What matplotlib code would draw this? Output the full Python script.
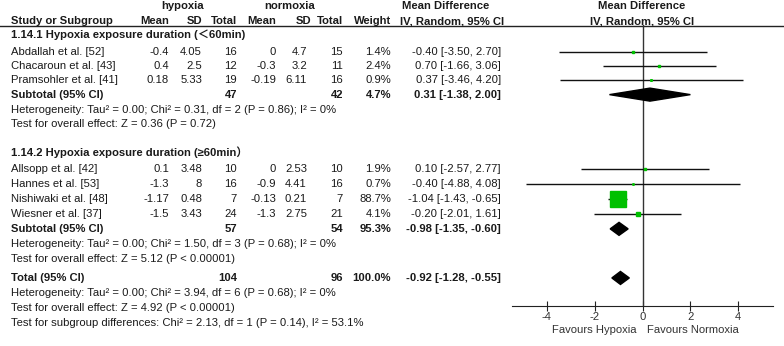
import numpy as np
import matplotlib.pyplot as plt

plt.rcParams['font.family'] = ['Liberation Sans', 'Noto Sans CJK SC', 'DejaVu Sans']
plt.rcParams['font.size'] = 8.1

# 研究数据
studies = ['Abdallah et al. [52]', 'Chacaroun et al. [43]', 'Pramsohler et al. [41]',
           'Allsopp et al. [42]', 'Hannes et al. [53]', 'Nishiwaki et al. [48]', 'Wiesner et al. [37]']
hyp_mean = [-0.4, 0.4, 0.18, 0.1, -1.3, -1.17, -1.5]
hyp_sd = [4.05, 2.5, 5.33, 3.48, 8, 0.48, 3.43]
hyp_n = [16, 12, 19, 10, 16, 7, 24]
nor_mean = [0, -0.3, -0.19, 0, -0.9, -0.13, -1.3]
nor_sd = [4.7, 3.2, 6.11, 2.53, 4.41, 0.21, 2.75]
nor_n = [15, 11, 16, 10, 16, 7, 21]
weight = [1.4, 2.4, 0.9, 1.9, 0.7, 88.7, 4.1]
md = [-0.40, 0.70, 0.37, 0.10, -0.40, -1.04, -0.20]
ci_lo = [-3.50, -1.66, -3.46, -2.57, -4.88, -1.43, -2.01]
ci_hi = [2.70, 3.06, 4.20, 2.77, 4.08, -0.65, 1.61]

# 亚组合计 + 总计
pooled_names = ['Subtotal (95% CI)', 'Subtotal (95% CI)', 'Total (95% CI)']
pooled_hyp_n = [47, 57, 104]
pooled_nor_n = [42, 54, 96]
pooled_weight = [4.7, 95.3, 100.0]
pooled_md = [0.31, -0.98, -0.92]
pooled_lo = [-1.38, -1.35, -1.28]
pooled_hi = [2.00, -0.60, -0.55]

group_titles = ['1.14.1 Hypoxia exposure duration (＜60min)',
                '1.14.2 Hypoxia exposure duration (≥60min）']
notes = [
    ['Heterogeneity: Tau² = 0.00; Chi² = 0.31, df = 2 (P = 0.86); I² = 0%',
     'Test for overall effect: Z = 0.36 (P = 0.72)'],
    ['Heterogeneity: Tau² = 0.00; Chi² = 1.50, df = 3 (P = 0.68); I² = 0%',
     'Test for overall effect: Z = 5.12 (P < 0.00001)'],
    ['Heterogeneity: Tau² = 0.00; Chi² = 3.94, df = 6 (P = 0.68); I² = 0%',
     'Test for overall effect: Z = 4.92 (P < 0.00001)',
     'Test for subgroup differences: Chi² = 2.13, df = 1 (P = 0.14), I² = 53.1%'],
]

# 行的像素位置 (y)
study_y = [52, 66, 80, 169, 184, 199, 214]
pooled_y = [95, 229, 278]
title_y = [35, 152]
note_y = [[110, 124], [244, 259], [293, 308, 323]]

txt = '#1a1a1a'
green = '#00c000'

fig = plt.figure(figsize=(7.84, 3.46), dpi=100)
bg = fig.add_axes([0, 0, 1, 1])
bg.set_xlim(0, 784)
bg.set_ylim(346, 0)
bg.axis('off')

# 表头
bg.text(183, 6, 'hypoxia', ha='center', va='center', weight='bold', color=txt)
bg.text(290, 6, 'normoxia', ha='center', va='center', weight='bold', color=txt)
bg.text(446, 6, 'Mean Difference', ha='center', va='center', weight='bold', color=txt)
bg.text(642, 6, 'Mean Difference', ha='center', va='center', weight='bold', color=txt)
bg.text(11, 21, 'Study or Subgroup', ha='left', va='center', weight='bold', color=txt)
for x, s in zip([169, 202, 237, 276, 311, 343, 391],
                ['Mean', 'SD', 'Total', 'Mean', 'SD', 'Total', 'Weight']):
    bg.text(x, 21, s, ha='right', va='center', weight='bold', color=txt)
bg.text(452, 21, 'IV, Random, 95% CI', ha='center', va='center', weight='bold', color=txt)
bg.text(642, 21, 'IV, Random, 95% CI', ha='center', va='center', weight='bold', color=txt)
bg.plot([0, 784], [25.5, 25.5], color='#222222', lw=1)

for t, y in zip(group_titles, title_y):
    bg.text(11, y, t, ha='left', va='center', weight='bold', color=txt)

for i, name in enumerate(studies):
    y = study_y[i]
    bg.text(11, y, name, ha='left', va='center', color=txt)
    cols = [(169, f'{hyp_mean[i]:g}'), (202, f'{hyp_sd[i]:g}'), (237, str(hyp_n[i])),
            (276, f'{nor_mean[i]:g}'), (307, f'{nor_sd[i]:g}'), (343, str(nor_n[i])),
            (391, f'{weight[i]:.1f}%'),
            (501, f'{md[i]:.2f} [{ci_lo[i]:.2f}, {ci_hi[i]:.2f}]')]
    for x, s in cols:
        bg.text(x, y, s, ha='right', va='center', color=txt)

for i, name in enumerate(pooled_names):
    y = pooled_y[i]
    bg.text(11, y, name, ha='left', va='center', weight='bold', color=txt)
    cols = [(237, str(pooled_hyp_n[i])), (343, str(pooled_nor_n[i])),
            (391, f'{pooled_weight[i]:.1f}%'),
            (501, f'{pooled_md[i]:.2f} [{pooled_lo[i]:.2f}, {pooled_hi[i]:.2f}]')]
    for x, s in cols:
        bg.text(x, y, s, ha='right', va='center', weight='bold', color=txt)

for lines, ys in zip(notes, note_y):
    for s, y in zip(lines, ys):
        bg.text(11, y, s, ha='left', va='center', color=txt)

bg.text(637, 330, 'Favours Hypoxia', ha='right', va='center', color='#333333')
bg.text(647, 330, 'Favours Normoxia', ha='left', va='center', color='#333333')

# 森林图
ax = fig.add_axes([512 / 784, 40 / 346, 261 / 784, 281 / 346])
ax.set_xlim(-5.45, 5.45)
ax.set_ylim(306, 25.5)
ax.patch.set_alpha(0)
for sp in ['top', 'left', 'right']:
    ax.spines[sp].set_visible(False)
ax.spines['bottom'].set_color('#222222')
ax.set_yticks([])
ax.set_xticks([-4, -2, 0, 2, 4])
ax.set_xticklabels(['-4', '-2', '0', '2', '4'])
ax.tick_params(axis='x', direction='inout', length=7, colors='#222222', labelcolor='#333333', pad=1)
ax.axvline(0, color='#333333', lw=1)

ax.hlines(study_y, ci_lo, ci_hi, color='#111111', lw=1, zorder=2)
max_w = max(weight)
for i in range(len(studies)):
    ax.plot(md[i], study_y[i], 's', color=green, mec=green,
            markersize=11.5 * np.sqrt(weight[i] / max_w), zorder=3)

for i in range(len(pooled_md)):
    y = pooled_y[i]
    ax.fill([pooled_lo[i], pooled_md[i], pooled_hi[i], pooled_md[i]],
            [y, y - 6.5, y, y + 6.5], color='black', zorder=3)

plt.savefig('out.png', dpi=100)
plt.close(fig)
